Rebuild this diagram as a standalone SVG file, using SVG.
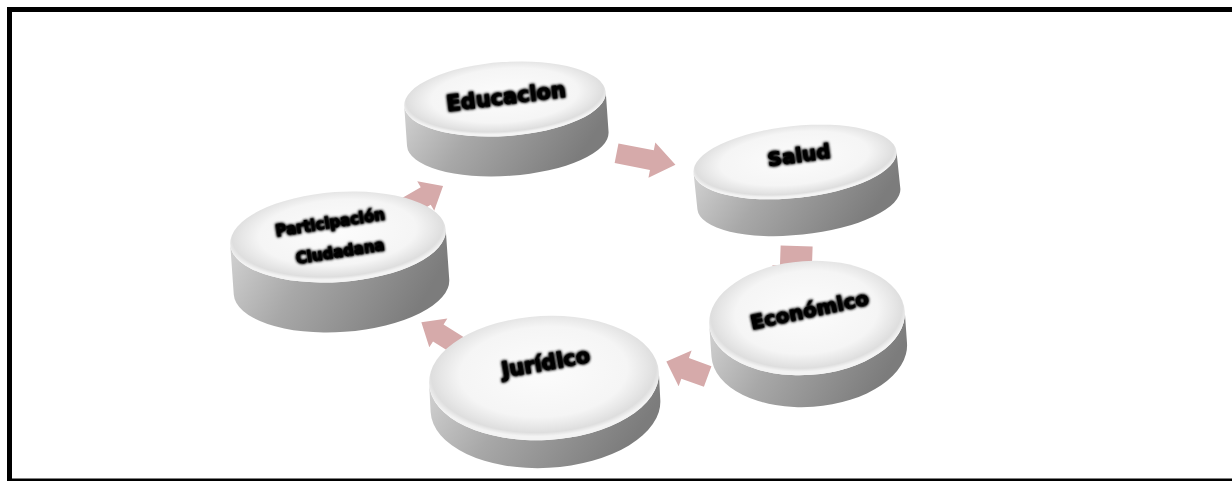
<svg xmlns="http://www.w3.org/2000/svg" width="1232" height="481" viewBox="0 0 1232 481">
<style>
.frame{fill:#fff;stroke:#000;stroke-width:5}
.arrow{fill:#d6aaaa;stroke:none}
.side{fill:url(#sideGrad)}
.face{fill:url(#faceGrad)}
.lbl{font-family:"DejaVu Sans","Liberation Sans",sans-serif;font-weight:bold;fill:#000;stroke:#000;stroke-width:.9;text-anchor:middle;filter:url(#glow)}
</style>
<defs>
<linearGradient id="sideGrad" x1="0" y1="0" x2="1" y2="0.3">
<stop offset="0" stop-color="#d2d2d2"/>
<stop offset="0.4" stop-color="#a8a8a8"/>
<stop offset="1" stop-color="#7c7c7c"/>
</linearGradient>
<radialGradient id="faceGrad" cx="0.5" cy="0.45" r="0.52">
<stop offset="0" stop-color="#fcfcfc"/>
<stop offset="0.7" stop-color="#f5f5f5"/>
<stop offset="0.86" stop-color="#e6e6e6"/>
<stop offset="0.94" stop-color="#dedede"/>
<stop offset="1" stop-color="#f3f3f3"/>
</radialGradient>
<filter id="glow" x="-20%" y="-40%" width="140%" height="180%">
<feGaussianBlur in="SourceAlpha" stdDeviation="1.4" result="b"/>
<feMerge><feMergeNode in="b"/><feMergeNode in="b"/><feMergeNode in="SourceGraphic"/></feMerge>
</filter>
</defs>

<rect class="frame" x="9.5" y="9.5" width="1240" height="471.5"/>

<g id="connectors">
<polygon class="arrow" transform="translate(646,159) rotate(11)" points="-30,-10 6,-10 6,-18 30,0 6,18 6,10 -30,10"/>
<polygon class="arrow" transform="translate(796,264) rotate(92)" points="-18,-16 2,-16 2,-24 20,0 2,24 2,16 -18,16"/>
<polygon class="arrow" transform="translate(687,369) rotate(200)" points="-22,-11 2,-11 2,-19 22,0 2,19 2,11 -22,11"/>
<polygon class="arrow" transform="translate(440,334) rotate(212)" points="-22,-10 2,-10 2,-17 22,0 2,17 2,10 -22,10"/>
<polygon class="arrow" transform="translate(424,197) rotate(-30)" points="-22,-10 2,-10 2,-17 22,0 2,17 2,10 -22,10"/>
</g>

<g id="node-educacion">
<g transform="translate(505,99) rotate(-4)">
<path class="side" d="M-101,0 A101 37 0 0 0 101,0 V40 A101 37 0 0 1 -101,40 Z"/>
<ellipse class="face" cx="0" cy="0" rx="101" ry="37"/>
</g>
<text class="lbl" font-size="21" transform="translate(507,104) rotate(-7)">Educacion</text>
</g>

<g id="node-salud">
<g transform="translate(795,162) rotate(-6)">
<path class="side" d="M-102,0 A102 36 0 0 0 102,0 V37 A102 36 0 0 1 -102,37 Z"/>
<ellipse class="face" cx="0" cy="0" rx="102" ry="36"/>
</g>
<text class="lbl" font-size="20" transform="translate(800,162) rotate(-8)">Salud</text>
</g>

<g id="node-participacion">
<g transform="translate(338,237) rotate(-4)">
<path class="side" d="M-108,0 A108 45 0 0 0 108,0 V50 A108 45 0 0 1 -108,50 Z"/>
<ellipse class="face" cx="0" cy="0" rx="108" ry="45"/>
</g>
<text class="lbl" font-size="15" transform="translate(331,228) rotate(-9)">Participación</text>
<text class="lbl" font-size="15" transform="translate(341,257) rotate(-9)">Ciudadana</text>
</g>

<g id="node-economico">
<g transform="translate(807,318) rotate(-4)">
<path class="side" d="M-98,0 A98 57 0 0 0 98,0 V32 A98 57 0 0 1 -98,32 Z"/>
<ellipse class="face" cx="0" cy="0" rx="98" ry="57"/>
</g>
<text class="lbl" font-size="20" transform="translate(811,317) rotate(-12)">Económico</text>
</g>

<g id="node-juridico">
<g transform="translate(544,378) rotate(-3)">
<path class="side" d="M-115,0 A115 62 0 0 0 115,0 V28 A115 62 0 0 1 -115,28 Z"/>
<ellipse class="face" cx="0" cy="0" rx="115" ry="62"/>
</g>
<text class="lbl" font-size="21" transform="translate(547,370) rotate(-10)">Jurídico</text>
</g>
</svg>
